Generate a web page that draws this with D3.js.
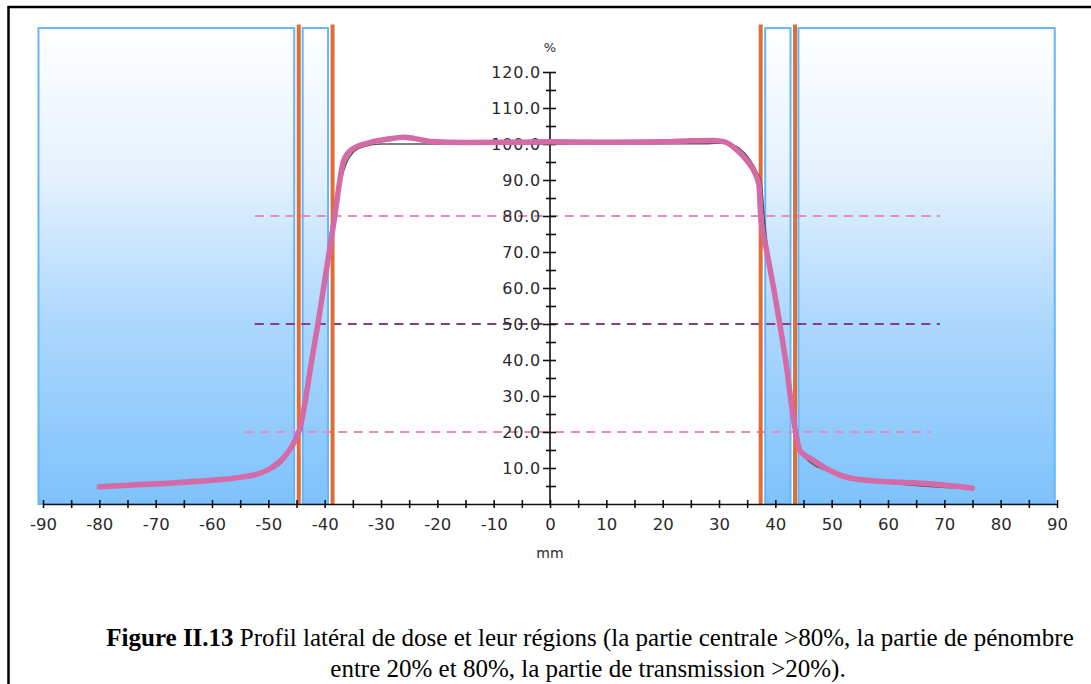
<!DOCTYPE html>
<html>
<head>
<meta charset="utf-8">
<script src="https://cdnjs.cloudflare.com/ajax/libs/d3/7.8.5/d3.min.js"></script>
<style>
  body { margin: 0; background: #fff; }
  svg { display: block; }
</style>
</head>
<body>
<div id="chart"></div>
<script>

// DATA
var xTickValues = [-90, -80, -70, -60, -50, -40, -30, -20, -10, 0, 10, 20, 30, 40, 50, 60, 70, 80, 90];
var xTickLabels = ['-90', '-80', '-70', '-60', '-50', '-40', '-30', '-20', '-10', '0', '10', '20', '30', '40', '50', '60', '70', '80', '90'];
var xMinorValues = [-85, -75, -65, -55, -45, -35, -25, -15, -5, 5, 15, 25, 35, 45, 55, 65, 75, 85];
var yTickValues = [10, 20, 30, 40, 50, 60, 70, 80, 90, 100, 110, 120];
var yTickLabels = ['10.0', '20.0', '30.0', '40.0', '50.0', '60.0', '70.0', '80.0', '90.0', '100.0', '110.0', '120.0'];
var yMinorValues = [5, 15, 25, 35, 45, 55, 65, 75, 85, 95, 105, 115];

// calculated profile (pink)
var profileMm = [-80, -70, -60, -55, -52, -49.5, -47.5, -46, -45, -44.4, -43.5, -42.5, -41.2, -40, -39, -38.2, -37.3, -36.7, -35.8, -34.5, -32, -29, -26, -24, -21, -15, -5, 0, 10, 20, 25, 29, 31, 33, 35, 36.5, 37.1, 37.4, 38.5, 39.7, 40.8, 42, 43, 43.6, 44.3, 45.2, 46.7, 48, 49.7, 51.5, 53, 55, 58.6, 67.5, 75];
var profileDose = [4.8, 5.6, 6.6, 7.4, 8.3, 10.0, 12.5, 15.5, 18.5, 21, 28, 38, 50, 62, 72, 80, 90, 95, 97.6, 99.1, 100.4, 101.3, 101.9, 101.5, 100.7, 100.4, 100.5, 100.6, 100.5, 100.6, 100.9, 101.0, 100.6, 98.6, 95.3, 91.5, 88.5, 80, 70, 60, 50, 38, 26, 20, 15, 13.6, 12.2, 10.8, 9.3, 8.0, 7.3, 6.8, 6.3, 5.6, 4.4];

// measured profile (thin grey, mostly hidden)
var measuredMm = [-80, -60, -50, -46, -44, -42, -40, -38.5, -37, -36, -35, -33, -30, 0, 28, 31, 33.5, 35.5, 36.8, 37.5, 38, 40.8, 43.6, 45, 50, 60, 75];
var measuredDose = [4.6, 6.4, 9.2, 15, 23, 42, 64, 80, 90.5, 95.2, 97.6, 99.3, 100, 100, 100.1, 100.3, 98.9, 95.6, 92, 89.2, 80, 50, 20, 13.3, 8.8, 5.9, 4.3];

// field edges (orange) and regions (blue boxes), mm
var fieldEdges = [-44.6, -38.6, 37.4, 43.5];
var fieldTop = 133.2;
var regionStart = [-90.8, -43.9, 38.2, 44.1];
var regionEnd = [-45.4, -39.4, 42.7, 89.6];
var regionTop = 132.2;

// reference levels (dashed)
var levelValues = [80, 50, 20];
var levelFrom = [-52.4, -52.4, -54.1];
var levelTo = [69.2, 69.2, 67.5];
var levelColors = ['#e38cc4', '#8a3c80', '#e38cc4'];

// SVG SETUP
var width = 1091;
var height = 684;

var svg = d3.select('#chart')
  .append('svg')
  .attr('width', width)
  .attr('height', height);

var defs = svg.append('defs');
var grad = defs.append('linearGradient')
  .attr('id', 'boxFill')
  .attr('x1', 0).attr('y1', 0)
  .attr('x2', 0).attr('y2', 1);
grad.append('stop').attr('offset', '0').attr('stop-color', '#ffffff');
grad.append('stop').attr('offset', '0.3').attr('stop-color', '#e6f2fe');
grad.append('stop').attr('offset', '0.62').attr('stop-color', '#acd7fd');
grad.append('stop').attr('offset', '1').attr('stop-color', '#7ec2fb');

// outer frame
svg.append('rect')
  .attr('x', 8.5)
  .attr('y', 7)
  .attr('width', 1110)
  .attr('height', 720)
  .attr('fill', 'none')
  .attr('stroke', '#000')
  .attr('stroke-width', 2.5);

// SCALES
var x = d3.scaleLinear().domain([-90, 90]).range([43, 1057]);
var y = d3.scaleLinear().domain([0, 120]).range([504, 72]);

// REGIONS
svg.selectAll('.region')
  .data(regionStart)
  .enter()
  .append('rect')
  .attr('class', 'region')
  .attr('x', function(d) { return x(d); })
  .attr('y', y(regionTop))
  .attr('width', function(d, i) { return x(regionEnd[i]) - x(d); })
  .attr('height', y(0) - y(regionTop))
  .attr('fill', 'url(#boxFill)')
  .attr('stroke', '#63b6fb')
  .attr('stroke-width', 2);

// REFERENCE LEVELS
svg.selectAll('.level')
  .data(levelValues)
  .enter()
  .append('line')
  .attr('class', 'level')
  .attr('x1', function(d, i) { return x(levelFrom[i]); })
  .attr('x2', function(d, i) { return x(levelTo[i]); })
  .attr('y1', function(d) { return y(d); })
  .attr('y2', function(d) { return y(d); })
  .attr('stroke', function(d, i) { return levelColors[i]; })
  .attr('stroke-width', 2)
  .attr('stroke-dasharray', '9,6.5');

// FIELD EDGES
svg.selectAll('.edge')
  .data(fieldEdges)
  .enter()
  .append('line')
  .attr('class', 'edge')
  .attr('x1', function(d) { return x(d); })
  .attr('x2', function(d) { return x(d); })
  .attr('y1', y(fieldTop))
  .attr('y2', y(0))
  .attr('stroke', '#e06d33')
  .attr('stroke-width', 4);

// AXES
var xAxis = svg.append('g')
  .attr('transform', 'translate(0,' + y(0) + ')')
  .call(d3.axisBottom(x)
    .tickValues(xTickValues)
    .tickFormat(function(d, i) { return xTickLabels[i]; })
    .tickSizeOuter(0));
var xMinor = svg.append('g')
  .attr('transform', 'translate(0,' + y(0) + ')')
  .call(d3.axisBottom(x)
    .tickValues(xMinorValues)
    .tickFormat('')
    .tickSizeOuter(0));
xMinor.select('.domain').remove();
svg.selectAll('g.tick line')
  .attr('y1', -4)
  .attr('y2', 4);
xAxis.selectAll('text')
  .attr('y', 14)
  .attr('dy', '0.71em');

var yAxis = svg.append('g')
  .attr('transform', 'translate(' + x(0) + ',0)')
  .call(d3.axisLeft(y)
    .tickValues(yTickValues)
    .tickFormat(function(d, i) { return yTickLabels[i]; })
    .tickSizeOuter(0));
yAxis.selectAll('line').attr('x1', 6).attr('x2', -7);
yAxis.selectAll('text').attr('x', -9);
var yMinor = svg.append('g')
  .attr('transform', 'translate(' + x(0) + ',0)')
  .call(d3.axisLeft(y).tickValues(yMinorValues).tickFormat(''));
yMinor.select('.domain').remove();
yMinor.selectAll('line').attr('x1', 6).attr('x2', -4);
yAxis.select('.domain').attr('d', 'M0,' + y(0) + 'V' + y(120));

svg.selectAll('.domain, .tick line')
  .attr('stroke', '#111')
  .attr('stroke-width', 1.6);
svg.selectAll('.tick text')
  .attr('fill', '#2a2a2a')
  .style('font-family', 'DejaVu Sans, Verdana, sans-serif');
xAxis.selectAll('text').style('font-size', '16.5px');
yAxis.selectAll('text').style('font-size', '16px').style('letter-spacing', '0.8px');

svg.append('text')
  .attr('x', x(0))
  .attr('y', 52)
  .attr('text-anchor', 'middle')
  .style('font-family', 'DejaVu Sans, sans-serif')
  .style('font-size', '13px')
  .attr('fill', '#2a2a2a')
  .text('%');

svg.append('text')
  .attr('x', x(0))
  .attr('y', 558)
  .attr('text-anchor', 'middle')
  .style('font-family', 'DejaVu Sans, sans-serif')
  .style('font-size', '14px')
  .attr('fill', '#2a2a2a')
  .text('mm');

// PROFILES
var measuredLine = d3.line()
  .x(function(d, i) { return x(measuredMm[i]); })
  .y(function(d) { return y(d); })
  .curve(d3.curveMonotoneX);

svg.append('path')
  .attr('d', measuredLine(measuredDose))
  .attr('fill', 'none')
  .attr('stroke', '#555')
  .attr('stroke-width', 1.5);

var profileLine = d3.line()
  .x(function(d, i) { return x(profileMm[i]); })
  .y(function(d) { return y(d); })
  .curve(d3.curveMonotoneX);

svg.append('path')
  .attr('d', profileLine(profileDose))
  .attr('fill', 'none')
  .attr('stroke', '#d46aa6')
  .attr('stroke-width', 5.5)
  .attr('stroke-linejoin', 'round')
  .attr('stroke-linecap', 'round');

// CAPTION
var caption = svg.append('text')
  .attr('x', 590)
  .attr('y', 646)
  .attr('text-anchor', 'middle')
  .style('font-family', 'Liberation Serif, Times New Roman, serif')
  .style('font-size', '25px')
  .attr('fill', '#000');
caption.append('tspan')
  .style('font-weight', 'bold')
  .text('Figure II.13');
caption.append('tspan')
  .text(' Profil latéral de dose et leur régions (la partie centrale >80%, la partie de pénombre');

svg.append('text')
  .attr('x', 588)
  .attr('y', 677)
  .attr('text-anchor', 'middle')
  .style('font-family', 'Liberation Serif, Times New Roman, serif')
  .style('font-size', '25px')
  .attr('fill', '#000')
  .text('entre 20% et 80%, la partie de transmission >20%).');

</script>
</body>
</html>
